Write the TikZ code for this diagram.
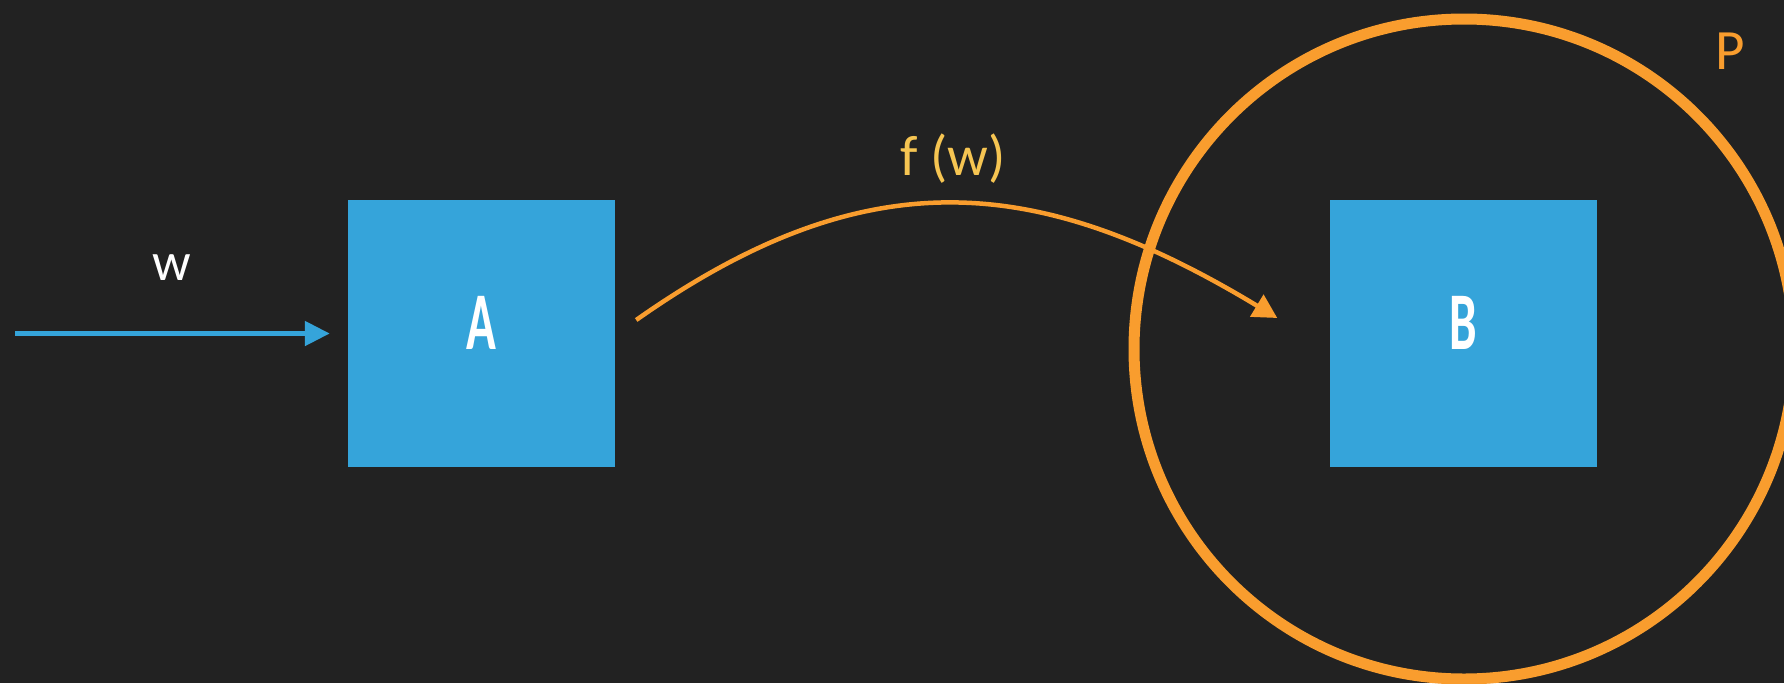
\documentclass[tikz,border=0pt]{standalone}
\usepackage{graphicx}
\usepackage{fontspec}
\setmainfont{Carlito}
\usetikzlibrary{arrows.meta}
\definecolor{bg}{HTML}{222222}
\definecolor{boxblue}{HTML}{35A4DA}
\definecolor{ringorange}{HTML}{F99D2E}
\definecolor{labelyellow}{HTML}{F6C552}

\begin{document}
\begin{tikzpicture}[x=1pt, y=-1pt,
	block/.style={fill=boxblue, minimum size=267pt, inner sep=0pt, text depth=22pt, text=white, font=\fontsize{82}{82}\selectfont\bfseries},
	feed/.style={boxblue, line width=5pt, -{Triangle[length=25pt, width=24pt]}},
	flow/.style={ringorange, line width=4.5pt, -{Triangle[length=24pt, width=25pt]}},
	ring/.style={draw=ringorange, line width=11pt, circle, minimum size=660pt, inner sep=0pt}]
	\fill[bg] (0,0) rectangle (1784,683);
	\clip (0,0) rectangle (1784,683);
	\node[ring] (Pset) at (1464,349) {};
	\node[block] (A) at (481.5,333.5) {\scalebox{0.6}[1]{A}};
	\node[block] (B) at (1463,333.5) {\scalebox{0.6}[1]{B}};
	\node[anchor=base, text=white, font=\fontsize{54}{54}\selectfont] (wlabel) at (172,280) {w};
	\node[anchor=base, text=labelyellow, font=\fontsize{57}{57}\selectfont] (flabel) at (953,175) {f (w)};
	\node[anchor=base, text=ringorange, font=\fontsize{57}{57}\selectfont] (Plabel) at (1730,69) {P};
	\coordinate (win) at (15,333.5);
	\draw[feed] (win) -- ([xshift=-18pt]A.west);
	\draw[flow] ([shift={(21,-13.5)}]A.east) .. controls +(230,-162) and +(-240,-145) .. ([shift={(-52,-15.5)}]B.west);
\end{tikzpicture}
\end{document}
